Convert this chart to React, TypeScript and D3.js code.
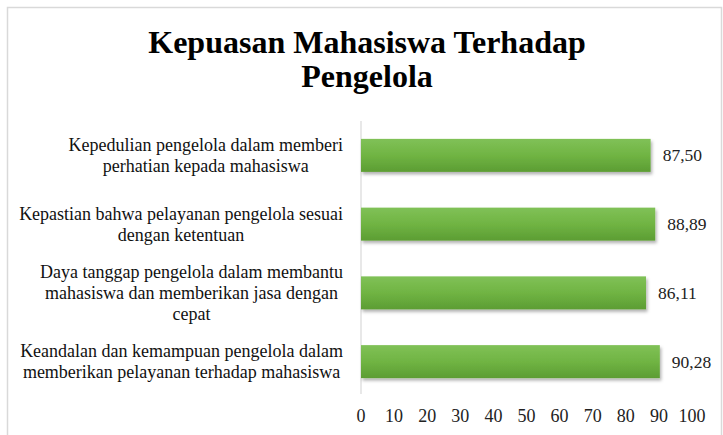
import { useEffect, useRef } from "react";
import * as d3 from "d3";

const categories = [
  "Kepedulian pengelola dalam memberi\nperhatian kepada mahasiswa",
  "Kepastian bahwa pelayanan pengelola sesuai\ndengan ketentuan",
  "Daya tanggap pengelola dalam membantu\nmahasiswa dan memberikan jasa dengan\ncepat",
  "Keandalan dan kemampuan pengelola dalam\nmemberikan pelayanan terhadap mahasiswa",
];
const values = [87.5, 88.89, 86.11, 90.28];
const valueLabels = ["87,50", "88,89", "86,11", "90,28"];
const ticks = [0, 10, 20, 30, 40, 50, 60, 70, 80, 90, 100];
const titleLines = ["Kepuasan Mahasiswa Terhadap", "Pengelola"];

const W = 723;
const H = 435;
const FONT = "'Liberation Serif', 'Times New Roman', serif";

export default function App() {
  const svgRef = useRef<SVGSVGElement>(null);

  useEffect(() => {
    if (!svgRef.current) return;
    const svg = d3.select(svgRef.current);
    svg.selectAll("*").remove();

    const x = d3.scaleLinear().domain([0, 100]).range([361, 692]);
    const y = d3
      .scaleBand<string>()
      .domain(categories)
      .range([121, 396])
      .paddingInner(0.52)
      .paddingOuter(0.26);

    const defs = svg.append("defs");
    const grad = defs
      .append("linearGradient")
      .attr("id", "barGrad")
      .attr("x1", 0)
      .attr("y1", 0)
      .attr("x2", 0)
      .attr("y2", 1);
    grad.append("stop").attr("offset", "0%").attr("stop-color", "#80c157");
    grad.append("stop").attr("offset", "50%").attr("stop-color", "#70b443");
    grad.append("stop").attr("offset", "100%").attr("stop-color", "#5c9d33");

    const shadow = defs
      .append("filter")
      .attr("id", "shadow")
      .attr("x", "-5%")
      .attr("y", "-20%")
      .attr("width", "115%")
      .attr("height", "160%");
    shadow
      .append("feDropShadow")
      .attr("dx", 1.5)
      .attr("dy", 2.5)
      .attr("stdDeviation", 1.8)
      .attr("flood-color", "#000")
      .attr("flood-opacity", 0.3);

    // frame
    svg
      .append("rect")
      .attr("x", 7.5)
      .attr("y", 7.5)
      .attr("width", 714)
      .attr("height", 440)
      .attr("fill", "#fff")
      .attr("stroke", "#d9d9d9")
      .attr("stroke-width", 1.5);

    // title
    svg
      .append("g")
      .selectAll("text")
      .data(titleLines)
      .enter()
      .append("text")
      .attr("x", 367)
      .attr("y", (_d, i) => 53 + i * 34)
      .attr("text-anchor", "middle")
      .style("font-family", FONT)
      .style("font-weight", "bold")
      .style("font-size", "32px")
      .style("fill", "#000")
      .text((d) => d);

    // axis line
    svg
      .append("line")
      .attr("x1", x(0))
      .attr("x2", x(0))
      .attr("y1", 121)
      .attr("y2", 394)
      .attr("stroke", "#d9d9d9")
      .attr("stroke-width", 1.2);

    // bars
    svg
      .append("g")
      .selectAll("rect")
      .data(values)
      .enter()
      .append("rect")
      .attr("x", x(0))
      .attr("y", (_d, i) => y(categories[i])!)
      .attr("width", (d) => x(d) - x(0))
      .attr("height", y.bandwidth())
      .attr("fill", "url(#barGrad)")
      .attr("filter", "url(#shadow)");

    // value labels
    svg
      .append("g")
      .selectAll("text")
      .data(values)
      .enter()
      .append("text")
      .attr("x", (d) => x(d) + 12)
      .attr("y", (_d, i) => y(categories[i])! + y.bandwidth() / 2 + 6)
      .style("font-family", FONT)
      .style("font-size", "17.5px")
      .style("fill", "#222")
      .text((_d, i) => valueLabels[i]);

    // x tick labels
    svg
      .append("g")
      .selectAll("text")
      .data(ticks)
      .enter()
      .append("text")
      .attr("x", (d) => x(d))
      .attr("y", 422)
      .attr("text-anchor", "middle")
      .style("font-family", FONT)
      .style("font-size", "18px")
      .style("fill", "#222")
      .text((d) => String(d));

    // category labels: block right-aligned, lines centered within block
    const lineH = 21;
    const right = 343;
    categories.forEach((c) => {
      const lines = c.split("\n");
      const cy = y(c)! + y.bandwidth() / 2;
      const g = svg.append("g");
      const texts = g
        .selectAll("text")
        .data(lines)
        .enter()
        .append("text")
        .attr("y", (_d, j) => cy + (j - (lines.length - 1) / 2) * lineH + 6)
        .attr("text-anchor", "middle")
        .style("font-family", FONT)
        .style("font-size", "18px")
        .style("fill", "#111")
        .text((d) => d);
      let maxW = 0;
      texts.each(function () {
        maxW = Math.max(maxW, (this as SVGTextElement).getComputedTextLength());
      });
      texts.attr("x", right - maxW / 2);
    });
  }, []);

  return (
    <svg
      ref={svgRef}
      width={W}
      height={H}
      style={{ position: "absolute", left: 0, top: 0, display: "block" }}
    />
  );
}
